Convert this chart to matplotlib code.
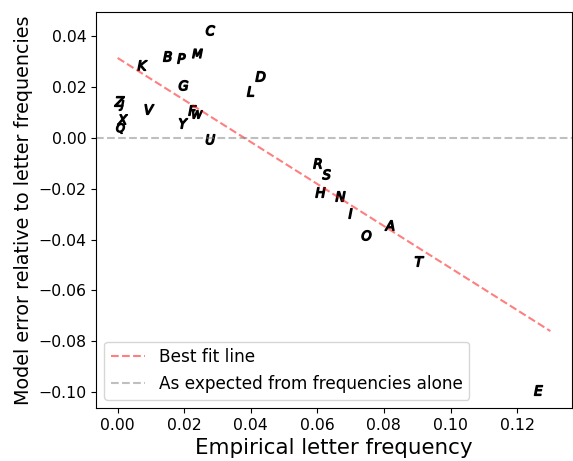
import matplotlib
matplotlib.use("Agg")
import matplotlib.pyplot as plt
import numpy as np

letters = ["C", "B", "P", "M", "K", "D", "L", "G", "Z", "J", "V", "F", "W", "X",
           "Q", "Y", "U", "R", "S", "H", "N", "I", "A", "O", "T", "E"]
freq = [0.0277, 0.0149, 0.0190, 0.0238, 0.0074, 0.0428, 0.0399, 0.0196, 0.0005, 0.0009,
        0.0095, 0.0223, 0.0238, 0.0014, 0.0008, 0.0196, 0.0277, 0.0599, 0.0626, 0.0608,
        0.0668, 0.0697, 0.0816, 0.0745, 0.0906, 0.1264]
error = [0.0425, 0.0323, 0.0315, 0.0335, 0.0287, 0.0244, 0.0185, 0.0209, 0.0146, 0.0130,
         0.0114, 0.0110, 0.0094, 0.0075, 0.0039, 0.0059, -0.0004, -0.0098, -0.0142, -0.0213,
         -0.0228, -0.0295, -0.0343, -0.0382, -0.0484, -0.0992]

fit_x = [0.0, 0.13]
fit_intercept = 0.0315
fit_slope = -0.827

fig = plt.figure(figsize=(5.73, 4.61), dpi=100)
ax = fig.add_axes([96/573, 1-408/461, (572-96)/573, (408-12)/461])

for L, x, y in zip(letters, freq, error):
    ax.scatter([x], [y], marker=f"${L}$", s=50, color="black")

fx = np.array(fit_x)
ax.plot(fx, fit_intercept + fit_slope*fx, "--", color="red", alpha=0.5, label="Best fit line")
ax.axhline(0, linestyle="--", color="gray", alpha=0.5, label="As expected from frequencies alone")

ax.set_xlim(-0.0065, 0.1365)
ax.set_ylim(-0.1063, 0.0496)
ax.set_xticks([0.0, 0.02, 0.04, 0.06, 0.08, 0.10, 0.12])
ax.set_yticks([-0.10, -0.08, -0.06, -0.04, -0.02, 0.0, 0.02, 0.04])
ax.tick_params(labelsize=11.3)
ax.set_xlabel("Empirical letter frequency", fontsize=15.4)
ax.set_ylabel("Model error relative to letter frequencies", fontsize=13.8)
ax.legend(loc="lower left", fontsize=12.2)

fig.savefig("out.png", dpi=100)
